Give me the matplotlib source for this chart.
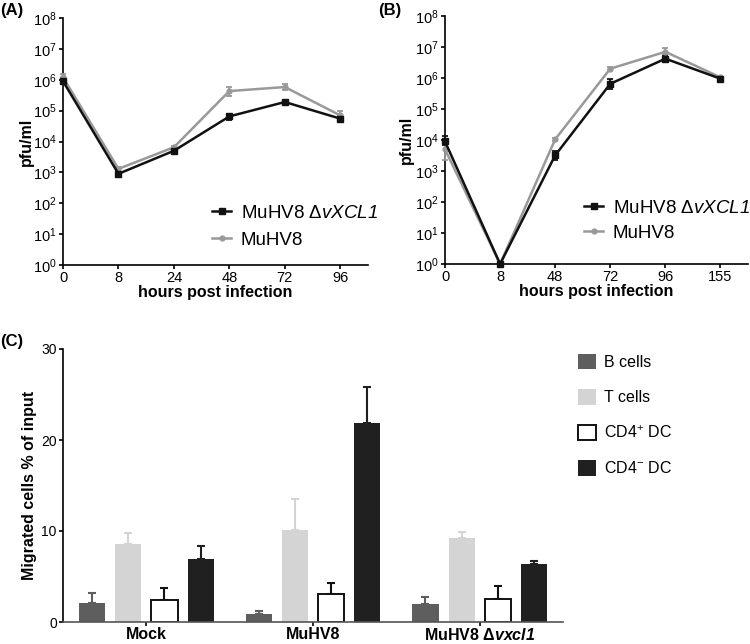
import matplotlib
matplotlib.use("Agg")
import matplotlib.pyplot as plt
import numpy as np
from matplotlib.lines import Line2D
from matplotlib.patches import Patch

plt.rcParams['font.family'] = ['Liberation Sans', 'DejaVu Sans']
plt.rcParams['mathtext.fontset'] = 'custom'
plt.rcParams['mathtext.rm'] = 'Liberation Sans'
plt.rcParams['mathtext.it'] = 'Liberation Sans:italic'
plt.rcParams['mathtext.sf'] = 'Liberation Sans:italic'
plt.rcParams['mathtext.bf'] = 'Liberation Sans:bold'
plt.rcParams['mathtext.bfit'] = 'Liberation Sans:italic:bold'
plt.rcParams['mathtext.default'] = 'regular'

# ---------------- data ----------------
# Panel A
a_hours = ["0", "8", "24", "48", "72", "96"]
a_ko = [9e5, 9e2, 5e3, 6.5e4, 1.9e5, 5.5e4]
a_ko_lo = [8e5, 7e2, 4.5e3, 5e4, 1.6e5, 4.5e4]
a_ko_hi = [1.1e6, 1.1e3, 5.5e3, 8e4, 2.2e5, 6.5e4]
a_wt = [1.2e6, 1.3e3, 6.5e3, 4.3e5, 5.8e5, 7e4]
a_wt_lo = [1.0e6, 1.2e3, 6e3, 3e5, 4.5e5, 4.5e4]
a_wt_hi = [1.5e6, 1.5e3, 7e3, 6e5, 7.5e5, 1e5]

# Panel B
b_hours = ["0", "8", "48", "72", "96", "155"]
b_ko = [9e3, 1, 3.2e3, 6.5e5, 4.2e6, 9.5e5]
b_ko_lo = [7e3, 1, 2.3e3, 4.5e5, 3.3e6, 8.5e5]
b_ko_hi = [1.3e4, 1, 4.3e3, 9e5, 5.2e6, 1.05e6]
b_wt = [5e3, 1, 1.05e4, 2e6, 7e6, 1.05e6]
b_wt_lo = [2.3e3, 1, 9e3, 1.8e6, 5.5e6, 9.5e5]
b_wt_hi = [8e3, 1, 1.2e4, 2.2e6, 9e6, 1.15e6]

# Panel C
c_groups = ["Mock", "MuHV8", r"MuHV8 $\mathbf{\Delta}\mathbfit{vxcl1}$"]
c_series = ["B cells", "T cells", "CD4$^{+}$ DC", "CD4$^{-}$ DC"]
c_bcells = [2.1, 0.9, 1.95]
c_tcells = [8.6, 10.1, 9.2]
c_cd4p = [2.4, 3.05, 2.5]
c_cd4m = [6.9, 21.9, 6.4]
c_bcells_err = [1.1, 0.3, 0.85]
c_tcells_err = [1.2, 3.4, 0.7]
c_cd4p_err = [1.3, 1.25, 1.5]
c_cd4m_err = [1.4, 3.9, 0.3]

ko_label = r"MuHV8 Δ$\mathsf{vXCL1}$"
wt_label = "MuHV8"

W, H = 750, 644
fig = plt.figure(figsize=(W / 100, H / 100), dpi=100)

def px_axes(x0, y0, x1, y1):
    return fig.add_axes([x0 / W, 1 - y1 / H, (x1 - x0) / W, (y1 - y0) / H])

BLACK = "#111111"
GRAY = "#999999"
SPW = 1.2

def style_log(ax, labels, lpad):
    ax.set_yscale('log')
    ax.set_ylim(1, 1e8)
    ax.set_xlim(0, 5.5)
    ax.set_yticks([10.0 ** k for k in range(9)])
    ax.set_yticklabels([f"10$^{{{k}}}$" for k in range(9)], fontsize=10.5)
    ax.minorticks_off()
    ax.set_xticks(range(len(labels)))
    ax.set_xticklabels(labels, fontsize=10.5)
    for s in ['top', 'right']:
        ax.spines[s].set_visible(False)
    for s in ['left', 'bottom']:
        ax.spines[s].set_linewidth(SPW)
    ax.tick_params(axis='both', length=3, width=SPW, pad=1.5)
    ax.set_xlabel("hours post infection", fontsize=11.5, fontweight='bold', labelpad=0)
    ax.set_ylabel("pfu/ml", fontsize=11.5, fontweight='bold', labelpad=lpad)

def plot_series(ax, y, lo, hi, color, marker, ms, label):
    x = np.arange(len(y))
    y = np.array(y)
    yerr = np.array([y - np.array(lo), np.array(hi) - y])
    ax.errorbar(x, y, yerr=yerr, color=color, lw=1.8, marker=marker, ms=ms,
                capsize=2.5, capthick=1.3, elinewidth=1.3, label=label,
                clip_on=False, zorder=3)

def legend_log(ax, x, y, sp):
    h = [Line2D([], [], color=BLACK, lw=1.8, marker='s', ms=4),
         Line2D([], [], color=GRAY, lw=1.8, marker='o', ms=3.5)]
    ax.legend(h, [ko_label, wt_label], loc='lower left', bbox_to_anchor=(x, y),
              frameon=False, fontsize=13.5, handlelength=1.0, handletextpad=0.5,
              labelspacing=sp, borderpad=0, borderaxespad=0)

# Panel A
axA = px_axes(63, 18, 368, 265)
plot_series(axA, a_wt, a_wt_lo, a_wt_hi, GRAY, 'o', 3.5, wt_label)
plot_series(axA, a_ko, a_ko_lo, a_ko_hi, BLACK, 's', 4, ko_label)
style_log(axA, a_hours, -1)
legend_log(axA, 0.49, 0.065, 0.55)

# Panel B
axB = px_axes(445, 16, 748, 264)
plot_series(axB, b_wt, b_wt_lo, b_wt_hi, GRAY, 'o', 3.5, wt_label)
plot_series(axB, b_ko, b_ko_lo, b_ko_hi, BLACK, 's', 4, ko_label)
style_log(axB, b_hours, 1)
legend_log(axB, 0.46, 0.09, 0.4)

# Panel C
axC = px_axes(63, 349, 563, 622)
colors = ["#5e5e5e", "#d4d4d4", "white", "#202020"]
ecolors = ["#5e5e5e", "#d4d4d4", "#111111", "#202020"]
edges = ["#5e5e5e", "#d4d4d4", "#111111", "#202020"]
vals = [c_bcells, c_tcells, c_cd4p, c_cd4m]
errs = [c_bcells_err, c_tcells_err, c_cd4p_err, c_cd4m_err]
xg = np.arange(len(c_groups))
pitch = 0.217
bw = 0.157
for i in range(4):
    xs = xg + (i - 1.5) * pitch
    e = np.array(errs[i])
    axC.bar(xs, vals[i], width=bw, color=colors[i], edgecolor=edges[i],
            linewidth=1.4 if i == 2 else 0, zorder=2)
    axC.errorbar(xs, vals[i], yerr=[np.zeros_like(e), e], fmt='none',
                 ecolor=ecolors[i], elinewidth=1.5, capsize=3, capthick=1.5, zorder=1)
axC.set_xlim(-0.5, 2.5)
axC.set_ylim(0, 30)
axC.set_yticks([0, 10, 20, 30])
axC.set_yticklabels(["0", "10", "20", "30"], fontsize=10)
axC.set_xticks(xg)
axC.set_xticklabels(c_groups, fontsize=11.5, fontweight='bold')
for s in ['top', 'right']:
    axC.spines[s].set_visible(False)
for s in ['left', 'bottom']:
    axC.spines[s].set_linewidth(SPW)
axC.spines['bottom'].set_color("#555555")
axC.tick_params(axis='y', length=3, width=SPW, pad=1.5)
axC.tick_params(axis='x', length=3, width=SPW, pad=0.5)
axC.set_ylabel("Migrated cells % of input", fontsize=11.5, fontweight='bold', labelpad=3)

handles = [Patch(facecolor=colors[i], edgecolor=edges[i], linewidth=1.4 if i == 2 else 0)
           for i in range(4)]
fig.legend(handles, c_series, loc='upper left', bbox_to_anchor=(578 / W, 1 - 354 / H),
           frameon=False, fontsize=11.5, handlelength=1.1, handleheight=1.1,
           handletextpad=0.5, labelspacing=1.2, borderpad=0, borderaxespad=0)

fig.text(0 / W, 1 - 11 / H, "(A)", fontsize=12, fontweight='bold', va='center', ha='left')
fig.text(378 / W, 1 - 11 / H, "(B)", fontsize=12, fontweight='bold', va='center', ha='left')
fig.text(0 / W, 1 - 342 / H, "(C)", fontsize=12, fontweight='bold', va='center', ha='left')

fig.savefig("out.png", dpi=100)
